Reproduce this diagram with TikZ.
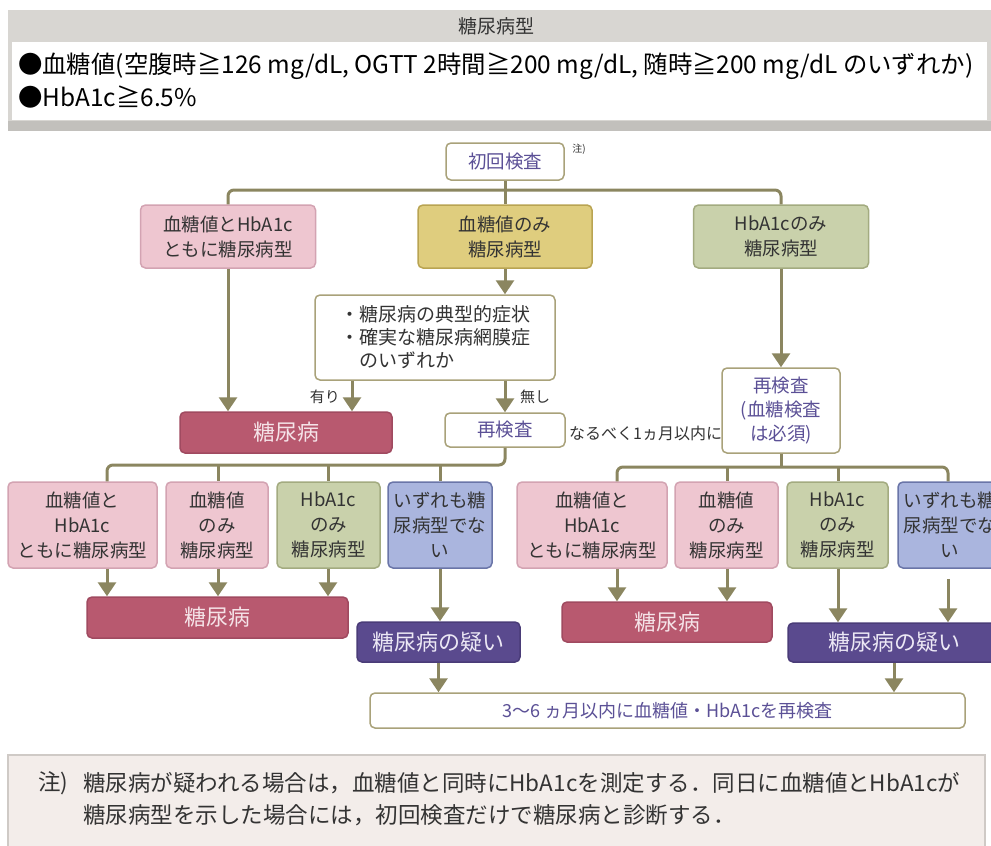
\documentclass[tikz,border=0pt]{standalone}
\usepackage{fontspec}
\setmainfont{Noto Sans CJK JP}
\usetikzlibrary{arrows.meta,calc}
\definecolor{linec}{HTML}{8B8660}
\definecolor{wbord}{HTML}{A9A27A}
\definecolor{wtext}{HTML}{5B5096}
\definecolor{textc}{HTML}{333333}
\definecolor{pinkf}{HTML}{EEC6D0}
\definecolor{pinkb}{HTML}{D3A3B2}
\definecolor{yelf}{HTML}{DFCD7E}
\definecolor{yelb}{HTML}{B9A452}
\definecolor{grnf}{HTML}{C9D1AB}
\definecolor{grnb}{HTML}{A3AB80}
\definecolor{bluf}{HTML}{AAB5DE}
\definecolor{blub}{HTML}{6A75A8}
\definecolor{dpf}{HTML}{B8596F}
\definecolor{dpb}{HTML}{A04A60}
\definecolor{dpt}{HTML}{F5E3E8}
\definecolor{puf}{HTML}{5A4A8E}
\definecolor{pub}{HTML}{4A3C78}
\definecolor{put}{HTML}{ECE8F5}
\definecolor{panelg}{HTML}{D8D6D2}
\definecolor{shadowg}{HTML}{C2C0BC}
\definecolor{notef}{HTML}{F3EDEA}
\definecolor{noteb}{HTML}{CFCAC6}
\begin{document}
\begin{tikzpicture}[x=1pt,y=-1pt,
  box/.style={draw, rounded corners=5pt, line width=1.5pt, align=center, inner sep=0pt,
    font=\fontsize{18.5}{25}\selectfont, text=textc},
  whitebox/.style={box, draw=wbord, fill=white, text=wtext},
  pinkbox/.style={box, draw=pinkb, fill=pinkf},
  yelbox/.style={box, draw=yelb, fill=yelf},
  grnbox/.style={box, draw=grnb, fill=grnf},
  blubox/.style={box, draw=blub, fill=bluf},
  dpbox/.style={box, draw=dpb, fill=dpf, text=dpt, font=\fontsize{22}{26}\selectfont},
  pubox/.style={box, draw=pub, fill=puf, text=put, font=\fontsize{22}{26}\selectfont},
  conn/.style={draw=linec, line width=3pt},
  arr/.style={conn, -{Triangle[width=18pt,length=14pt]}},
  lbl/.style={inner sep=0pt, text=textc, font=\fontsize{15}{18}\selectfont},
  paneltext/.style={inner sep=0pt, anchor=west, text=black, font=\fontsize{24.4}{28}\selectfont},
  notetext/.style={inner sep=0pt, anchor=west, text=textc, font=\fontsize{22.5}{26}\selectfont},
]
\useasboundingbox (0,0) rectangle (991,846);
\clip (0,0) rectangle (991,846);
\fill[white] (0,0) rectangle (991,846);

% top panel
\fill[shadowg] (8,14) rectangle (991,131);
\fill[panelg] (8,10) rectangle (991,121);
\fill[white] (12,42) rectangle (987,120);
\node[inner sep=0pt, text=textc, font=\fontsize{19}{22}\selectfont] (head) at (496,26) {糖尿病型};
\node[paneltext] (crit1) at (18,66)
  {●血糖値(空腹時≧126 mg/dL, OGTT 2時間≧200 mg/dL, 随時≧200 mg/dL のいずれか)};
\node[paneltext] (crit2) at (18,97) {●HbA1c≧6.5\%};

% first level
\node[whitebox, minimum width=118pt, minimum height=37pt] (init) at (505,161.5) {初回検査};
\node[lbl, font=\fontsize{10}{12}\selectfont] (chu) at (579,149) {注)};
\node[pinkbox, minimum width=175pt, minimum height=63pt] (b1) at (228,236.5) {血糖値とHbA1c\\ともに糖尿病型};
\node[yelbox, minimum width=174pt, minimum height=63pt] (b2) at (505,236.5) {血糖値のみ\\糖尿病型};
\node[grnbox, minimum width=175pt, minimum height=63pt] (b3) at (781,236.5) {HbA1cのみ\\糖尿病型};
\coordinate (s1) at (505,190);
\draw[conn, rounded corners=6pt] (b1.north) |- (s1) -| (b3.north);
\draw[conn] (init.south) -- (b2.north);

\node[whitebox, minimum width=240pt, minimum height=85pt, align=left, text=textc,
  font=\fontsize{19}{23}\selectfont] (sym) at (435,337.5)
  {・糖尿病の典型的症状\\・確実な糖尿病網膜症\\\hspace*{1em}のいずれか};
\draw[arr] (b2.south) -- (b2.south |- sym.north);

\node[dpbox, minimum width=212pt, minimum height=41pt] (d1) at (286,432.5) {糖尿病};
\node[whitebox, minimum width=120pt, minimum height=34pt] (rc1) at (505,430) {再検査};
\node[lbl, anchor=west, font=\fontsize{16}{18}\selectfont] (soon) at (569,433) {なるべく1ヵ月以内に};
\node[whitebox, minimum width=118pt, minimum height=85pt, font=\fontsize{18.5}{24}\selectfont] (rc2) at (781,410.5) {再検査\\(血糖検査\\は必須)};

\draw[arr] (b1.south) -- (b1.south |- d1.north);
\draw[arr] ([xshift=-83pt]sym.south) -- ([xshift=-83pt]sym.south |- d1.north);
\draw[arr] (sym.south -| rc1.north) -- (rc1.north);
\node[lbl, anchor=east] (ari) at (340,397) {有り};
\node[lbl, anchor=west] (nashi) at (520,397) {無し};
\draw[arr] (b3.south) -- (rc2.north);

% lower left
\node[pinkbox, minimum width=149pt, minimum height=86pt] (L1) at (82.5,525) {血糖値と\\HbA1c\\ともに糖尿病型};
\node[pinkbox, minimum width=102pt, minimum height=86pt] (L2) at (217,525) {血糖値\\のみ\\糖尿病型};
\node[grnbox, minimum width=103pt, minimum height=86pt] (L3) at (328.5,525) {HbA1c\\のみ\\糖尿病型};
\node[blubox, minimum width=104pt, minimum height=86pt] (L4) at (440,525) {いずれも糖\\尿病型でな\\い};
\coordinate (tL1) at (107,465);
\coordinate (tL2) at (218,465);
\coordinate (tL3) at (328,465);
\coordinate (tL4) at (440,465);
\draw[conn, rounded corners=6pt] (rc1.south) |- (tL1) -- (tL1 |- L1.north);
\draw[conn] (tL2) -- (tL2 |- L2.north);
\draw[conn] (tL3) -- (tL3 |- L3.north);
\draw[conn] (tL4) -- (tL4 |- L4.north);

\node[dpbox, minimum width=261pt, minimum height=41pt] (d2) at (217.5,617.5) {糖尿病};
\node[pubox, minimum width=163pt, minimum height=40pt] (q1) at (438.5,642) {糖尿病の疑い};
\draw[arr] (tL1 |- L1.south) -- (tL1 |- d2.north);
\draw[arr] (tL2 |- L2.south) -- (tL2 |- d2.north);
\draw[arr] (tL3 |- L3.south) -- (tL3 |- d2.north);
\draw[arr] (tL4 |- L4.south) -- (tL4 |- q1.north);

% lower right
\node[pinkbox, minimum width=150pt, minimum height=86pt] (R1) at (592,525) {血糖値と\\HbA1c\\ともに糖尿病型};
\node[pinkbox, minimum width=103pt, minimum height=86pt] (R2) at (726.5,525) {血糖値\\のみ\\糖尿病型};
\node[grnbox, minimum width=101pt, minimum height=86pt] (R3) at (837.5,525) {HbA1c\\のみ\\糖尿病型};
\node[blubox, minimum width=104pt, minimum height=86pt] (R4) at (950,525) {いずれも糖\\尿病型でな\\い};
\coordinate (tR1) at (617,467);
\coordinate (tR2) at (727,467);
\coordinate (tR3) at (838,467);
\coordinate (tR4) at (948,467);
\draw[conn, rounded corners=6pt] (tR1 |- R1.north) -- (tR1) -- (tR4) -- (tR4 |- R4.north);
\draw[conn] (rc2.south) -- (rc2.south |- tR1);
\draw[conn] (tR2) -- (tR2 |- R2.north);
\draw[conn] (tR3) -- (tR3 |- R3.north);

\node[dpbox, minimum width=210pt, minimum height=40pt] (d3) at (667,622) {糖尿病};
\node[pubox, minimum width=212pt, minimum height=39pt] (q2) at (894,642.5) {糖尿病の疑い};
\draw[arr] (tR1 |- R1.south) -- (tR1 |- d3.north);
\draw[arr] (tR2 |- R2.south) -- (tR2 |- d3.north);
\draw[arr] (tR3 |- R3.south) -- (tR3 |- q2.north);
\draw[arr, shorten <=10pt] (tR4 |- R4.south) -- (tR4 |- q2.north);

% final
\node[whitebox, minimum width=595pt, minimum height=35pt, font=\fontsize{18}{22}\selectfont] (fin) at (667.5,710.5) {3〜6 ヵ月以内に血糖値・HbA1cを再検査};
\draw[arr] (q1.south) -- (q1.south |- fin.north);
\draw[arr] (q2.south) -- (q2.south |- fin.north);

% note panel
\fill[notef] (8,755) rectangle (985,850);
\draw[noteb, line width=2pt] (8,850) -- (8,755) -- (985,755) -- (985,850);
\node[notetext] (n0) at (38,783) {注)};
\node[notetext] (n1) at (83,783)
  {糖尿病が疑われる場合は，血糖値と同時にHbA1cを測定する．同日に血糖値とHbA1cが};
\node[notetext] (n2) at (83,815)
  {糖尿病型を示した場合には，初回検査だけで糖尿病と診断する．};
\end{tikzpicture}
\end{document}
